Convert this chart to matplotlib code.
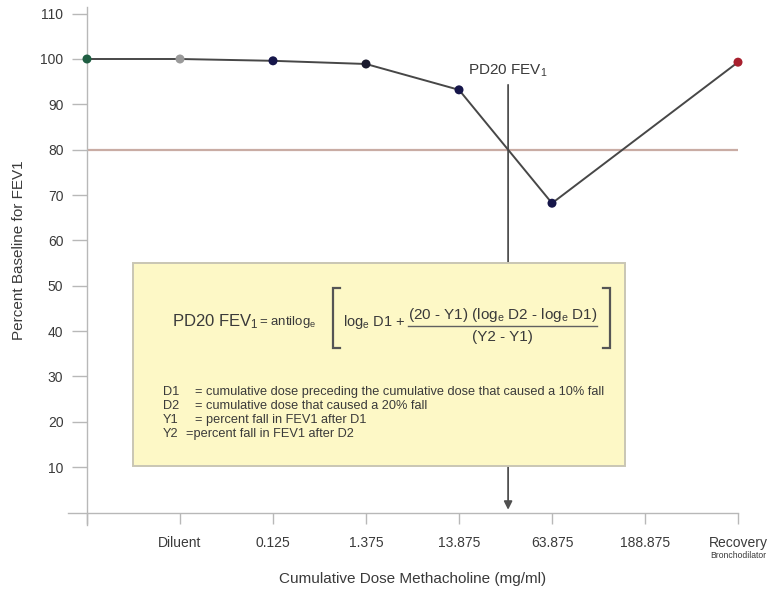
import matplotlib
matplotlib.use("Agg")
import matplotlib.pyplot as plt
from matplotlib.patches import Rectangle

plt.rcParams["font.family"] = ["Liberation Sans", "DejaVu Sans"]
plt.rcParams["mathtext.fontset"] = "custom"
plt.rcParams["mathtext.rm"] = "Liberation Sans"
plt.rcParams["mathtext.it"] = "Liberation Sans:italic"

# ---- data ----
dose_labels = ["", "Diluent", "0.125", "1.375", "13.875", "63.875", "188.875", "Recovery"]
point_pos = [0, 1, 2, 3, 4, 5, 7]
fev1_pct = [100.0, 100.0, 99.6, 98.9, 93.2, 68.2, 99.3]
point_colors = ["#1f5e42", "#9a9a9a", "#16164a", "#1a1a2e", "#16164a", "#16164a", "#a8202e"]
y_ticks = [10, 20, 30, 40, 50, 60, 70, 80, 90, 100, 110]
threshold = 80

definitions = [
    ("D1", "= cumulative dose preceding the cumulative dose that caused a 10% fall"),
    ("D2", "= cumulative dose that caused a 20% fall"),
    ("Y1", "= percent fall in FEV1 after D1"),
    ("Y2", "=percent fall in FEV1 after D2"),
]

# PD20 position: where the dose-response line crosses the threshold
x1, x2 = point_pos[4], point_pos[5]
y1, y2 = fev1_pct[4], fev1_pct[5]
pd20_x = x1 + (y1 - threshold) / (y1 - y2) * (x2 - x1)

W, H = 782, 590
fig = plt.figure(figsize=(W / 100, H / 100), dpi=100)
xlim = (-0.3, 7.3)
ylim = (-3.0, 112.0)
ppx = 93.0
ppy = 4.535
left_px = 87 + xlim[0] * ppx
right_px = 87 + xlim[1] * ppx
top_px = 512.5 - ylim[1] * ppy
bot_px = 512.5 - ylim[0] * ppy
ax = fig.add_axes([left_px / W, 1 - bot_px / H, (right_px - left_px) / W, (bot_px - top_px) / H])
ax.set_xlim(*xlim)
ax.set_ylim(*ylim)

axis_col = "#b8b8b8"
text_col = "#3a3a3a"
for s in ["top", "right"]:
    ax.spines[s].set_visible(False)
ax.spines["bottom"].set_position(("data", 0))
ax.spines["bottom"].set_bounds(-0.2, 7)
ax.spines["left"].set_position(("data", 0))
ax.spines["left"].set_bounds(-2.8, 111.5)
for s in ["bottom", "left"]:
    ax.spines[s].set_color(axis_col)
    ax.spines[s].set_linewidth(1.0)

ax.set_yticks(y_ticks)
ax.set_yticklabels([str(v) for v in y_ticks])
ax.tick_params(axis="y", direction="out", length=11, width=1.0, color=axis_col,
               labelsize=10, labelcolor=text_col, pad=6)
ax.set_xticks(range(len(dose_labels)))
ax.set_xticklabels(dose_labels)
ax.tick_params(axis="x", direction="out", length=8, width=1.0, color=axis_col,
               labelsize=10, labelcolor=text_col, pad=9)
ax.text(7, -9.4, "Bronchodilator", ha="center", va="center", fontsize=6.2,
        color=text_col)

ax.set_xlabel("Cumulative Dose Methacholine (mg/ml)", fontsize=11, color=text_col,
              labelpad=16)
ax.set_ylabel("Percent Baseline for FEV1", fontsize=11, color=text_col)
ax.yaxis.set_label_coords((26 - left_px) / (right_px - left_px), 0.53)

# threshold line
ax.plot([0, 7], [threshold, threshold], color="#c9aca4", lw=1.6, zorder=1,
        solid_capstyle="butt")

# PD20 marker line with arrow
ax.annotate("", xy=(pd20_x, 0.6), xytext=(pd20_x, 94.3),
            arrowprops=dict(arrowstyle="-|>", color="#505050", lw=1.3,
                            mutation_scale=12, shrinkA=0, shrinkB=0), zorder=2)
ax.text(pd20_x, 97.5, "PD20 FEV$_1$", ha="center", va="center", fontsize=11,
        color=text_col)

# dose-response curve
ax.plot(point_pos, fev1_pct, color="#474747", lw=1.4, zorder=3)
ax.scatter(point_pos, fev1_pct, s=42, c=point_colors, zorder=4, clip_on=False,
           edgecolors="none")


def dx(px):
    return (px - 87) / ppx


def dy(py):
    return (512.5 - py) / ppy


# formula box
bx0, bx1 = dx(133), dx(625)
by0, by1 = dy(466), dy(263)
ax.add_patch(Rectangle((bx0, by0), bx1 - bx0, by1 - by0, facecolor="#fdf8c6",
                       edgecolor="#c9c6b4", lw=1.4, zorder=5))

ax.text(dx(172), dy(322), "PD20 FEV$_1$", fontsize=12, color=text_col,
        va="center", ha="left", zorder=6)
ax.text(dx(259), dy(322), r"= antilog$_\mathrm{e}$", fontsize=9.5, color=text_col,
        va="center", ha="left", zorder=6)


def bracket(xv, serif_dx):
    xs = [dx(xv + serif_dx), dx(xv), dx(xv), dx(xv + serif_dx)]
    ys = [dy(288), dy(288), dy(348), dy(348)]
    ax.plot(xs, ys, color="#555555", lw=1.6, zorder=6, solid_joinstyle="miter")


bracket(333, 7)
bracket(610, -7)
ax.text(dx(343), dy(322), r"log$_\mathrm{e}$ D1 +", fontsize=10.5, color=text_col,
        va="center", ha="left", zorder=6)
ax.text(dx(503), dy(315), r"(20 - Y1) (log$_\mathrm{e}$ D2 - log$_\mathrm{e}$ D1)",
        fontsize=11, color=text_col, va="center", ha="center", zorder=6)
ax.plot([dx(408), dx(597)], [dy(326), dy(326)], color="#606060", lw=1.0, zorder=6)
ax.text(dx(502), dy(337), "(Y2 - Y1)", fontsize=11, color=text_col,
        va="center", ha="center", zorder=6)

line_y = [392, 406, 420, 434]
for (lab, desc), py in zip(definitions, line_y):
    ax.text(dx(163), dy(py), lab, fontsize=9.2, color=text_col, va="center",
            ha="left", zorder=6)
    xo = 186 if desc.startswith("=p") else 195
    ax.text(dx(xo), dy(py), desc, fontsize=9.2, color=text_col, va="center",
            ha="left", zorder=6)

fig.savefig("out.png", dpi=100, facecolor="white")
